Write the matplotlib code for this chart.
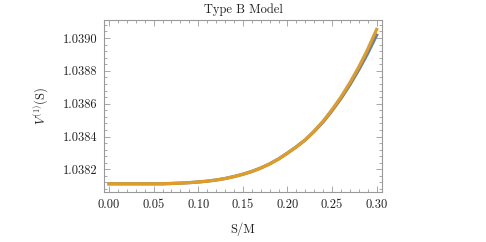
import matplotlib
matplotlib.use("Agg")
import matplotlib.pyplot as plt
from matplotlib.ticker import MultipleLocator, FormatStrFormatter

plt.rcParams['font.family'] = ['cmr10', 'DejaVu Serif']
plt.rcParams['mathtext.fontset'] = 'cm'
plt.rcParams['axes.formatter.use_mathtext'] = True

s_values = [0.00, 0.02, 0.04, 0.06, 0.07, 0.08, 0.09, 0.10, 0.11, 0.12,
            0.13, 0.14, 0.15, 0.16, 0.17, 0.18, 0.19, 0.20, 0.21, 0.22,
            0.23, 0.24, 0.25, 0.26, 0.27, 0.28, 0.29, 0.30]
v_orange = [1.038112, 1.038112, 1.038112, 1.038112, 1.038114, 1.038116,
            1.038119, 1.038123, 1.038128, 1.038135, 1.038144, 1.038156,
            1.038170, 1.038187, 1.038208, 1.038233, 1.038263, 1.038299,
            1.038338, 1.038381, 1.038434, 1.038494, 1.038564, 1.038641,
            1.038728, 1.038824, 1.038932, 1.039053]
v_blue = [1.038112, 1.038112, 1.038112, 1.038112, 1.038114, 1.038116,
          1.038119, 1.038123, 1.038128, 1.038135, 1.038144, 1.038156,
          1.038170, 1.038187, 1.038208, 1.038233, 1.038263, 1.038299,
          1.038337, 1.038379, 1.038431, 1.038489, 1.038557, 1.038632,
          1.038715, 1.038807, 1.038907, 1.039018]

title = "Type B Model"
xlabel = "S/M"
ylabel = r"$V^{(1)}(\mathrm{S})$"

fig = plt.figure(figsize=(4.86, 2.42), dpi=100)
ax = fig.add_axes([104/486, 50/242, 278/486, 172/242])

ax.plot(s_values, v_blue, color='#5E81B5', lw=2.3)
ax.plot(s_values, v_orange, color='#E19C24', lw=2.3)

ax.set_xlim(-0.0056, 0.306)
ax.set_ylim(1.038062, 1.03911)

ax.xaxis.set_major_locator(MultipleLocator(0.05))
ax.xaxis.set_minor_locator(MultipleLocator(0.01))
ax.yaxis.set_major_locator(MultipleLocator(0.0002))
ax.yaxis.set_minor_locator(MultipleLocator(0.00004))
ax.xaxis.set_major_formatter(FormatStrFormatter('%.2f'))
ax.yaxis.set_major_formatter(FormatStrFormatter('%.4f'))

frame_col = '#999999'
for sp in ax.spines.values():
    sp.set_color(frame_col)
    sp.set_linewidth(0.8)
ax.tick_params(which='both', direction='in', top=True, right=True,
               color=frame_col, width=0.6, labelsize=9, labelcolor='#222222')
ax.tick_params(which='major', length=4, pad=5)
ax.tick_params(which='minor', length=2)

ax.set_title(title, fontsize=9, pad=5, color='#222222')
ax.set_xlabel(xlabel, fontsize=9, labelpad=8, color='#222222')
ax.set_ylabel(ylabel, fontsize=9, labelpad=8, color='#222222')

fig.savefig("out.png", dpi=100)
